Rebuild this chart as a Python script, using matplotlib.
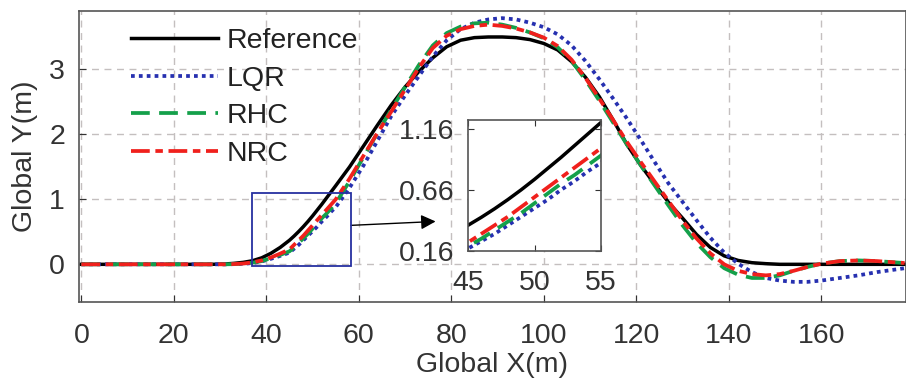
import numpy as np
import matplotlib
matplotlib.use("Agg")
import matplotlib.pyplot as plt
from matplotlib.patches import Rectangle

plt.rcParams["font.family"] = ["Liberation Sans", "DejaVu Sans"]

x = [0, 10, 20, 28, 31, 33, 35, 37, 39, 41, 43, 45, 46, 47, 48, 49, 50, 51,
     52, 53, 54, 55, 58, 61, 64, 67, 70, 73, 76, 79, 82, 85, 88, 91, 94, 97,
     100, 103, 106, 109, 112, 115, 118, 121, 124, 127, 130, 133, 136, 139,
     142, 145, 148, 151, 154, 157, 160, 164, 168, 172, 178]

y_ref = [0, 0, 0, 0, 0.005, 0.015, 0.03, 0.055, 0.1, 0.17, 0.26, 0.37, 0.435,
         0.505, 0.58, 0.66, 0.745, 0.835, 0.925, 1.02, 1.115, 1.21, 1.5, 1.82,
         2.14, 2.45, 2.73, 2.97, 3.18, 3.35, 3.45, 3.49, 3.5, 3.5, 3.49, 3.46,
         3.4, 3.3, 3.12, 2.88, 2.58, 2.22, 1.84, 1.52, 1.23, 0.95, 0.71, 0.46,
         0.26, 0.13, 0.06, 0.025, 0.01, 0, 0, 0, 0, 0, 0, 0, 0]

y_lqr = [0, 0, 0, 0, 0, 0.003, 0.008, 0.02, 0.045, 0.085, 0.13, 0.18, 0.24,
         0.3, 0.37, 0.44, 0.51, 0.58, 0.66, 0.73, 0.81, 0.88, 1.18, 1.52, 1.9,
         2.28, 2.6, 2.9, 3.2, 3.45, 3.62, 3.72, 3.77, 3.79, 3.77, 3.72, 3.65,
         3.54, 3.37, 3.13, 2.85, 2.55, 2.24, 1.91, 1.57, 1.24, 0.96, 0.68,
         0.41, 0.18, 0.01, -0.12, -0.21, -0.25, -0.27, -0.27, -0.25, -0.21,
         -0.17, -0.12, -0.06]

y_rhc = [0, 0, 0, 0, 0, 0.003, 0.01, 0.025, 0.05, 0.095, 0.145, 0.2, 0.26,
         0.33, 0.4, 0.47, 0.55, 0.63, 0.71, 0.78, 0.86, 0.94, 1.28, 1.65, 2.02,
         2.38, 2.73, 3.07, 3.37, 3.56, 3.66, 3.71, 3.72, 3.69, 3.64, 3.57,
         3.48, 3.34, 3.13, 2.84, 2.52, 2.18, 1.84, 1.52, 1.21, 0.9, 0.6, 0.33,
         0.11, -0.06, -0.16, -0.21, -0.21, -0.17, -0.1, -0.04, 0.01, 0.05,
         0.06, 0.05, 0.02]

y_nrc = [0, 0, 0, 0, 0, 0.004, 0.012, 0.03, 0.06, 0.105, 0.165, 0.23, 0.3,
         0.37, 0.44, 0.52, 0.6, 0.68, 0.76, 0.84, 0.92, 1.0, 1.32, 1.67, 2.02,
         2.35, 2.69, 3.03, 3.33, 3.52, 3.62, 3.67, 3.69, 3.67, 3.63, 3.57,
         3.49, 3.36, 3.15, 2.87, 2.55, 2.22, 1.88, 1.57, 1.27, 0.97, 0.67, 0.4,
         0.17, 0.0, -0.1, -0.15, -0.17, -0.15, -0.1, -0.04, 0.01, 0.05, 0.06,
         0.05, 0.02]

labels = ["Reference", "LQR", "RHC", "NRC"]
xticks = [0, 20, 40, 60, 80, 100, 120, 140, 160]
yticks = [0, 1, 2, 3]
inset_xticks = [45, 50, 55]
inset_yticks = [0.16, 0.66, 1.16]

styles = [
    dict(color="black", lw=2.5, ls="-"),
    dict(color="#2630b0", lw=2.7, ls=(0, (1, 1.1))),
    dict(color="#14a04a", lw=2.7, ls=(0, (5, 2.5))),
    dict(color="#f0201c", lw=2.7, ls=(0, (5, 1.5, 2, 1.5))),
]
series = [y_ref, y_lqr, y_rhc, y_nrc]
fs = 20.5

fig = plt.figure(figsize=(9.06, 3.91), dpi=100)
ax = fig.add_axes([79 / 906, 89 / 391, 827 / 906, 291 / 391])

for ys, lab, st in zip(series, labels, styles):
    ax.plot(x, ys, label=lab, **st)

ax.set_xlim(-0.5, 178.3)
ax.set_ylim(-0.58, 3.9)
ax.set_xticks(xticks)
ax.set_yticks(yticks)
ax.grid(True, color="#c4bfbf", ls=(0, (5, 4)), lw=1.0)
ax.tick_params(direction="in", length=5, labelsize=fs, colors="#333333",
               pad=15, top=False, right=False)
ax.tick_params(axis="y", pad=10)
for sp in ax.spines.values():
    sp.set_color("#555555")
    sp.set_linewidth(1.2)
ax.set_xlabel("Global X(m)", fontsize=fs, color="#333333", labelpad=2)
ax.set_ylabel("Global Y(m)", fontsize=fs, color="#333333", labelpad=8)

leg = ax.legend(loc="upper left", bbox_to_anchor=(0.063, 0.94), frameon=False,
                fontsize=fs, handlelength=3.05, handletextpad=0.32,
                labelspacing=0.4, borderaxespad=0, borderpad=0)
for t in leg.get_texts():
    t.set_color("#222222")

# zoom box and arrow
ax.add_patch(Rectangle((37, -0.03), 21.3, 1.13, fill=False,
                       edgecolor="#2630a0", lw=1.3, zorder=6))
ax.annotate("", xy=(76.6, 0.66), xytext=(58.3, 0.6),
            arrowprops=dict(arrowstyle="-|>", color="black", lw=1.0,
                            mutation_scale=22, shrinkA=0, shrinkB=0))

# inset
axi = fig.add_axes([468 / 906, 140 / 391, 133 / 906, 131 / 391])
for ys, st in zip(series, styles):
    axi.plot(x, ys, **st)
axi.set_xlim(45, 55)
axi.set_ylim(0.16, 1.23)
axi.set_xticks(inset_xticks)
axi.set_yticks(inset_yticks)
axi.tick_params(direction="in", length=4, labelsize=fs, colors="#333333",
                pad=14, top=True, right=True)
axi.tick_params(axis="y", pad=10)
for sp in axi.spines.values():
    sp.set_color("#555555")
    sp.set_linewidth(1.2)

fig.savefig("out.png", dpi=100)
